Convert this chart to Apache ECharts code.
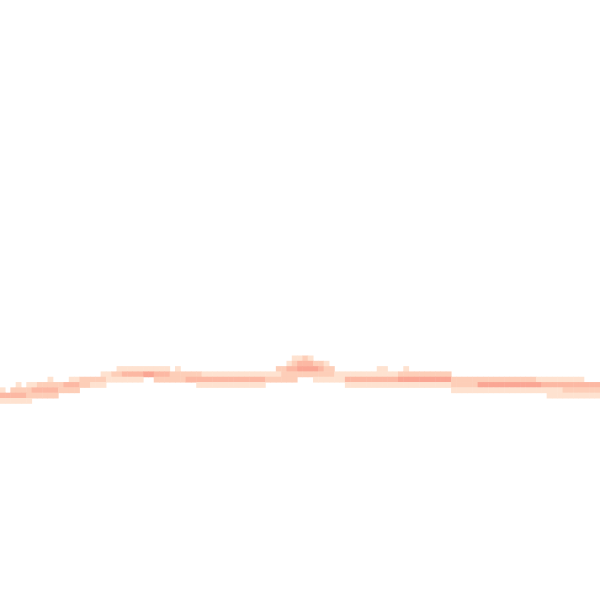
<!DOCTYPE html>
<html>
<head>
<meta charset="utf-8">
<script src="https://cdn.jsdelivr.net/npm/echarts@6/dist/echarts.min.js"></script>
<style>html,body{margin:0;padding:0;background:#fff}#c{width:600px;height:600px}</style>
</head>
<body>
<div id="c"></div>
<script>
// grid size (cells)
var nCols = 113;
var nRows = 113;
// runs of cells: [row, firstCol, lastCol, level]
var runs = [
  // bump top
  [67, 55, 56, 1], [67, 57, 57, 2], [67, 58, 58, 1],
  [68, 54, 54, 1], [68, 55, 55, 2], [68, 56, 58, 3], [68, 59, 60, 2], [68, 61, 61, 1],
  // row 69
  [69, 22, 31, 1], [69, 33, 33, 1],
  [69, 52, 53, 2], [69, 54, 55, 3], [69, 56, 59, 4], [69, 60, 60, 3], [69, 61, 62, 2],
  [69, 71, 72, 1], [69, 76, 76, 1],
  // row 70
  [70, 19, 20, 1], [70, 21, 22, 2], [70, 23, 26, 3], [70, 27, 28, 4], [70, 29, 31, 3],
  [70, 32, 37, 2], [70, 38, 49, 1], [70, 50, 52, 1], [70, 53, 55, 2], [70, 56, 62, 2],
  [70, 63, 74, 1], [70, 75, 84, 2],
  // row 71
  [71, 9, 9, 1], [71, 13, 14, 1], [71, 15, 19, 2], [71, 20, 26, 1],
  [71, 29, 33, 2], [71, 34, 34, 2], [71, 35, 37, 3], [71, 38, 49, 3],
  [71, 50, 55, 2], [71, 59, 64, 1], [71, 65, 74, 3], [71, 75, 84, 4],
  [71, 85, 100, 2], [71, 101, 109, 1],
  // row 72
  [72, 3, 3, 1], [72, 5, 6, 1], [72, 7, 11, 2], [72, 12, 14, 3], [72, 15, 16, 2], [72, 17, 19, 1],
  [72, 37, 49, 1], [72, 65, 74, 1], [72, 75, 84, 1], [72, 85, 89, 2], [72, 90, 101, 4],
  [72, 102, 108, 3], [72, 109, 112, 3],
  // row 73
  [73, 0, 0, 1], [73, 2, 5, 2], [73, 6, 10, 3], [73, 11, 14, 2],
  [73, 85, 105, 1], [73, 106, 112, 2],
  // row 74
  [74, 0, 4, 3], [74, 5, 10, 2], [74, 103, 112, 1],
  // row 75
  [75, 0, 5, 1]
];
var levelColors = ['#fee2d0', '#fdceb8', '#fcb8a3', '#faa694'];

var xCats = [], yCats = [];
for (var i = 0; i < nCols; i++) xCats.push(String(i));
for (var j = 0; j < nRows; j++) yCats.push(String(j));
var cells = [];
runs.forEach(function (r) {
  for (var c = r[1]; c <= r[2]; c++) cells.push([c, r[0], r[3]]);
});

var chart = echarts.init(document.getElementById('c'), null, {renderer: 'canvas'});
chart.setOption({
  animation: false,
  backgroundColor: '#ffffff',
  grid: {left: 0, top: 0, width: 602.67, height: 602.67},
  xAxis: {type: 'category', data: xCats, show: false},
  yAxis: {type: 'category', data: yCats, inverse: true, show: false},
  visualMap: {show: false, type: 'continuous', min: 1, max: 4, dimension: 2,
    inRange: {color: levelColors}},
  series: [{
    type: 'heatmap',
    data: cells,
    itemStyle: {borderWidth: 0},
    emphasis: {disabled: true}
  }]
});
</script>
</body>
</html>
